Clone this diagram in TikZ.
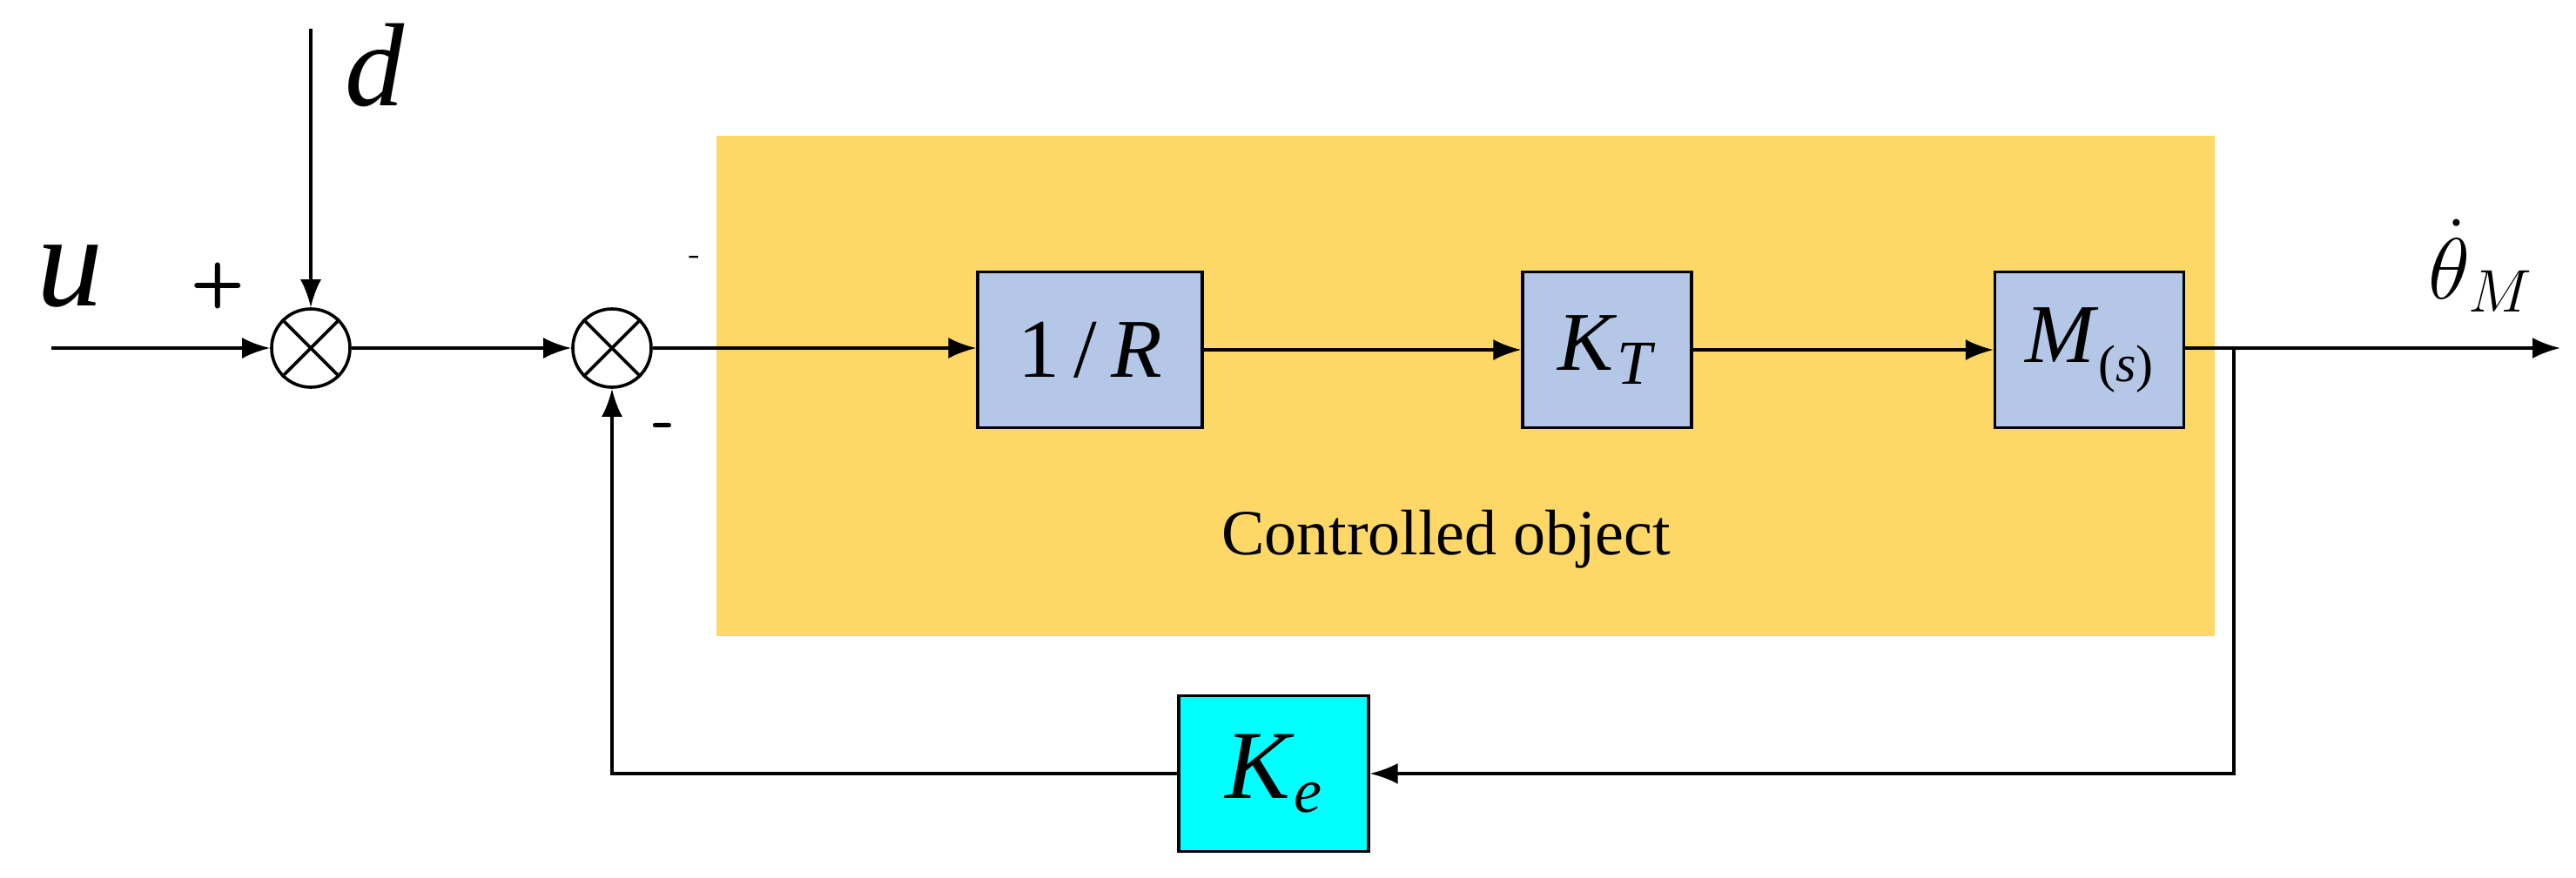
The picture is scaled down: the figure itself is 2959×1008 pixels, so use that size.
\documentclass[tikz,border=0pt]{standalone}
\usepackage{fontspec}
\setmainfont{Liberation Serif}
\usetikzlibrary{arrows.meta}
\definecolor{orangebg}{HTML}{FDD866}
\definecolor{blk}{HTML}{B4C7E7}
\definecolor{cy}{HTML}{00FFFF}
\begin{document}
\begin{tikzpicture}[x=0.25pt,y=-0.25pt,
  line width=0.9pt,
  arr/.style={-{Latex[length=8pt,width=6pt]}},
  sum/.style={circle,draw,fill=white,minimum size=22.5pt,inner sep=0pt},
  blk/.style={draw,fill=blk,line width=0.8pt,minimum height=44.75pt,inner sep=0pt,font=\fontsize{24}{28}\selectfont},
  lab/.style={inner sep=0pt}]
\useasboundingbox (0,0) rectangle (2959,1008);
\fill[orangebg] (823,156) rectangle (2544,731);
\node[lab,font=\fontsize{18.5}{22}\selectfont] (co) at (1661,620) {Controlled object};
\node[sum] (s1) at (357,400) {};
\node[sum] (s2) at (703,400) {};
\foreach \s in {s1,s2}{\draw (\s.45)--(\s.225) (\s.135)--(\s.315);}
\node[blk,minimum width=64.5pt] (r) at (1252,402) {1\,/\,\textit{R}};
\node[blk,minimum width=48.5pt] (kt) at (1846,402) {\textit{K}\raisebox{-0.35ex}{\textit{\fontsize{18}{20}\selectfont T}}};
\node[blk,minimum width=54.25pt] (m) at (2400,402) {\textit{M}\raisebox{-0.5ex}{\fontsize{15}{18}\selectfont(\textit{s})}};
\node[blk,fill=cy,minimum width=54.5pt,font=\fontsize{28}{30}\selectfont] (ke) at (1463,889) {\textit{K}\raisebox{-0.3ex}{\textit{\fontsize{18}{20}\selectfont e}}};
\coordinate (in) at (59,400);
\coordinate (dtop) at (357,33);
\coordinate (br) at (2566,400);
\coordinate (out) at (2941,400);
\coordinate (fb1) at (2566,889);
\coordinate (fb2) at (703,889);
\draw[arr] (in) -- (s1);
\draw[arr] (dtop) -- (s1);
\draw[arr] (s1) -- (s2);
\draw[arr] (s2) -- (s2 -| r.west);
\draw[arr] (r.east) -- (r.east -| kt.west);
\draw[arr] (kt.east) -- (kt.east -| m.west);
\draw[arr] (m.east |- br) -- (out);
\draw[arr] (br) -- (fb1) -- (ke.east);
\draw[arr] (ke.west) -- (fb2) -- (s2);
\node[lab,font=\fontsize{38}{40}\selectfont\itshape] (u) at (80,318) {u};
\node[lab,font=\fontsize{34}{40}\selectfont\itshape] (d) at (430,75) {d};
\node[lab,font=\sffamily\bfseries\fontsize{18}{20}\selectfont] (p) at (250,328) {+};
\node[lab,font=\sffamily\fontsize{10}{12}\selectfont] (m1) at (798,299) {-};
\node[lab,font=\sffamily\bfseries\fontsize{18}{20}\selectfont] (m2) at (763,496) {-};
\node[lab,font=\fontsize{26}{30}\selectfont] (th) at (2850,305) {$\dot{\theta}_{M}$};
\end{tikzpicture}
\end{document}
